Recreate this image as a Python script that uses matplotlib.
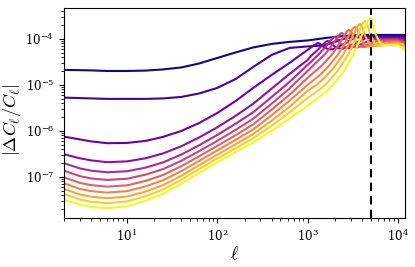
import numpy as np
import matplotlib
matplotlib.use("Agg")
import matplotlib.pyplot as plt

plt.rcParams['mathtext.fontset'] = 'cm'
plt.rcParams['font.family'] = ['DejaVu Serif']

# ---- data ----
ell_c1 = [2, 4, 6, 10, 16, 25, 40, 63, 100, 160, 250, 400, 630, 1000, 1600, 2500, 4000, 12000]
dcl_c1 = [2.12e-5, 2.07e-5, 2.01e-5, 2.01e-5, 2.05e-5, 2.17e-5, 2.40e-5, 2.93e-5, 3.86e-5, 5.09e-5,
          6.53e-5, 7.78e-5, 8.61e-5, 9.27e-5, 1.05e-4, 1.16e-4, 1.22e-4, 1.22e-4]

ell_c2 = [2, 4, 6, 10, 16, 25, 40, 63, 100, 160, 250, 400, 630, 1000, 1500, 2000, 2500, 3500, 12000]
dcl_c2 = [5.30e-6, 5.09e-6, 4.97e-6, 4.97e-6, 4.97e-6, 5.09e-6, 5.48e-6, 6.53e-6, 8.61e-6, 1.35e-5,
          2.46e-5, 4.49e-5, 6.37e-5, 6.87e-5, 7.22e-5, 8.61e-5, 1.0e-4, 1.13e-4, 1.16e-4]

ell_c3 = [2, 3, 4, 6, 10, 16, 25, 40, 63, 100, 160, 250, 400, 630, 1000, 1150, 1300, 1378, 1482,
          1664, 1885, 2600, 3380, 12000]
dcl_c3 = [7.52e-7, 6.53e-7, 5.92e-7, 5.41e-7, 5.48e-7, 6.07e-7, 7.41e-7, 1.0e-6, 1.49e-6, 2.46e-6,
          4.49e-6, 8.61e-6, 1.65e-5, 3.01e-5, 5.77e-5, 7.05e-5, 8.18e-5, 7.78e-5, 6.84e-5, 6.07e-5,
          5.92e-5, 7.98e-5, 1.08e-4, 1.05e-4]

ell_c4 = [2, 3, 4, 6, 10, 16, 25, 40, 63, 100, 160, 250, 400, 630, 1000, 1092, 1294, 1462, 1596,
          1680, 1781, 1915, 2150, 2436, 3360, 4368, 10000, 12000]
dcl_c4 = [3.11e-7, 2.54e-7, 2.29e-7, 2.09e-7, 2.18e-7, 2.54e-7, 3.24e-7, 4.65e-7, 7.23e-7, 1.20e-6,
          2.14e-6, 3.90e-6, 8.32e-6, 1.73e-5, 3.49e-5, 4.27e-5, 5.79e-5, 7.36e-5, 8.69e-5, 9.05e-5,
          8.52e-5, 7.29e-5, 6.28e-5, 6.09e-5, 7.91e-5, 1.03e-4, 1.03e-4, 9.70e-5]

ell_c5 = [2, 3, 4, 6, 10, 16, 25, 40, 63, 100, 160, 250, 400, 630, 1000, 1307, 1548, 1749, 1910,
          2010, 2131, 2291, 2573, 2915, 4020, 5226, 10000, 12000]
dcl_c5 = [1.99e-7, 1.53e-7, 1.37e-7, 1.26e-7, 1.33e-7, 1.59e-7, 2.07e-7, 3.07e-7, 4.89e-7, 8.18e-7,
          1.44e-6, 2.55e-6, 5.46e-6, 1.16e-5, 2.72e-5, 4.47e-5, 6.44e-5, 8.65e-5, 1.05e-4, 1.11e-4,
          1.02e-4, 8.06e-5, 6.53e-5, 6.25e-5, 7.83e-5, 9.80e-5, 9.80e-5, 9.05e-5]

ell_c6 = [2, 3, 4, 6, 10, 16, 25, 40, 63, 100, 160, 250, 400, 630, 1000, 1200, 1560, 1848, 2088,
          2280, 2400, 2544, 2736, 3072, 3480, 4800, 6240, 10000, 12000]
dcl_c6 = [1.37e-7, 1.04e-7, 9.27e-8, 8.61e-8, 9.14e-8, 1.12e-7, 1.48e-7, 2.24e-7, 3.64e-7, 6.09e-7,
          1.06e-6, 1.84e-6, 3.92e-6, 8.32e-6, 2.01e-5, 2.86e-5, 4.65e-5, 7.15e-5, 1.01e-4, 1.27e-4,
          1.35e-4, 1.21e-4, 9.00e-5, 6.84e-5, 6.44e-5, 7.74e-5, 9.37e-5, 9.37e-5, 8.39e-5]

ell_c7 = [2, 3, 4, 6, 10, 16, 25, 40, 63, 100, 160, 250, 400, 630, 1000, 1152, 1440, 1872, 2218,
          2506, 2736, 2880, 3053, 3283, 3686, 4176, 5760, 7488, 10000, 12000]
dcl_c7 = [9.84e-8, 7.41e-8, 6.64e-8, 6.15e-8, 6.56e-8, 8.18e-8, 1.10e-7, 1.71e-7, 2.82e-7, 4.74e-7,
          8.11e-7, 1.39e-6, 2.90e-6, 6.09e-6, 1.42e-5, 1.81e-5, 2.64e-5, 4.62e-5, 7.59e-5, 1.13e-4,
          1.47e-4, 1.57e-4, 1.38e-4, 9.75e-5, 7.08e-5, 6.62e-5, 7.67e-5, 8.91e-5, 8.91e-5, 7.78e-5]

ell_c8 = [2, 3, 4, 6, 10, 16, 25, 40, 63, 100, 160, 250, 400, 630, 1000, 1340, 1675, 2178, 2580,
          2915, 3183, 3350, 3551, 3819, 4288, 4858, 6700, 8710, 10000, 12000]
dcl_c8 = [7.29e-8, 5.48e-8, 4.91e-8, 4.56e-8, 4.91e-8, 6.21e-8, 8.47e-8, 1.34e-7, 2.24e-7, 3.77e-7,
          6.41e-7, 1.08e-6, 2.19e-6, 4.54e-6, 1.0e-5, 1.59e-5, 2.44e-5, 4.58e-5, 8.02e-5, 1.25e-4,
          1.69e-4, 1.82e-4, 1.57e-4, 1.06e-4, 7.36e-5, 6.81e-5, 7.59e-5, 8.52e-5, 8.52e-5, 7.22e-5]

ell_c9 = [2, 3, 4, 6, 10, 16, 25, 40, 63, 100, 160, 250, 400, 630, 1000, 1238, 1524, 1905, 2477,
          2934, 3315, 3620, 3810, 4039, 4343, 4877, 5525, 7620, 9906, 12000]
dcl_c9 = [5.48e-8, 4.14e-8, 3.72e-8, 3.44e-8, 3.75e-8, 4.79e-8, 6.64e-8, 1.06e-7, 1.81e-7, 3.05e-7,
          5.14e-7, 8.57e-7, 1.67e-6, 3.34e-6, 7.41e-6, 9.80e-6, 1.40e-5, 2.25e-5, 4.56e-5, 8.48e-5,
          1.40e-4, 1.95e-4, 2.12e-4, 1.79e-4, 1.15e-4, 7.67e-5, 7.01e-5, 7.55e-5, 8.15e-5, 6.70e-5]

ell_c10 = [2, 3, 4, 6, 10, 16, 25, 40, 63, 100, 160, 250, 400, 630, 1000, 1407, 1732, 2165, 2815,
           3334, 3767, 4114, 4330, 4590, 4936, 5542, 6279, 8660, 11258, 12000]
dcl_c10 = [4.27e-8, 3.23e-8, 2.88e-8, 2.68e-8, 2.93e-8, 3.80e-8, 5.32e-8, 8.69e-8, 1.49e-7, 2.52e-7,
           4.21e-7, 6.93e-7, 1.30e-6, 2.52e-6, 5.21e-6, 8.32e-6, 1.23e-5, 2.07e-5, 4.51e-5, 9.00e-5,
           1.55e-4, 2.25e-4, 2.46e-4, 2.05e-4, 1.25e-4, 7.94e-5, 7.19e-5, 7.45e-5, 7.74e-5, 6.22e-5]

ell_c11 = [2, 3, 4, 6, 10, 16, 25, 40, 63, 100, 160, 250, 400, 630, 1000, 1600, 1968, 2500, 3200,
           3800, 4300, 4700, 4920, 5200, 5600, 6300, 7100, 9840, 12000]
dcl_c11 = [3.16e-8, 2.51e-8, 2.24e-8, 2.09e-8, 2.30e-8, 3.02e-8, 4.27e-8, 7.08e-8, 1.23e-7, 2.09e-7,
           3.46e-7, 5.62e-7, 1.0e-6, 1.86e-6, 3.49e-6, 7.05e-6, 1.08e-5, 1.92e-5, 4.49e-5, 9.51e-5,
           1.73e-4, 2.59e-4, 2.86e-4, 2.34e-4, 1.35e-4, 8.27e-5, 7.41e-5, 7.41e-5, 5.77e-5]

ell_cut = 5000

curves = [(ell_c1, dcl_c1), (ell_c2, dcl_c2), (ell_c3, dcl_c3), (ell_c4, dcl_c4),
          (ell_c5, dcl_c5), (ell_c6, dcl_c6), (ell_c7, dcl_c7), (ell_c8, dcl_c8),
          (ell_c9, dcl_c9), (ell_c10, dcl_c10), (ell_c11, dcl_c11)]

# ---- figure ----
fig = plt.figure(figsize=(4.15, 2.67), dpi=100)
ax = fig.add_axes([64/415, (267-218)/267, (405-64)/415, (218-8)/267])

cmap = plt.get_cmap('plasma')
n = len(curves)
for i, (x, y) in enumerate(curves):
    ax.plot(x, y, color=cmap(i/(n-1)), lw=1.5)

ax.axvline(ell_cut, color='black', ls=(0, (4, 2.5)), lw=1.5)

ax.set_xscale('log')
ax.set_yscale('log')
ax.set_xlim(2, 1.2e4)
ax.set_ylim(1.28e-8, 4.7e-4)
ax.set_xlabel(r'$\ell$', fontsize=13, labelpad=1)
ax.set_ylabel(r'$|\Delta C_\ell/C_\ell|$', fontsize=13, va='center')
ax.yaxis.set_label_coords(-0.152, 0.47)
ax.tick_params(labelsize=8.5)

fig.savefig('out.png', dpi=100)
